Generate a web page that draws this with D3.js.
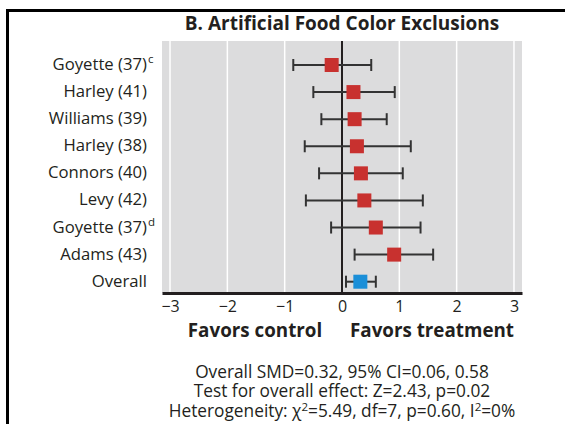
<!DOCTYPE html>
<html>
<head>
<meta charset="utf-8">
<script src="https://cdn.jsdelivr.net/npm/d3@7"></script>
<style>
  html, body { margin: 0; padding: 0; background: #fff; }
  svg { display: block; }
  text { font-family: "Open Sans", "Noto Sans", sans-serif; fill: #231f20; }
</style>
</head>
<body>
<svg id="chart" width="565" height="424"></svg>
<script>
// ---- Data ----
const studies = ["Goyette (37)", "Harley (41)", "Williams (39)", "Harley (38)", "Connors (40)", "Levy (42)", "Goyette (37)", "Adams (43)", "Overall"];
const superscripts = ["c", "", "", "", "", "", "d", "", ""];
const smd = [-0.18, 0.20, 0.22, 0.26, 0.33, 0.39, 0.59, 0.91, 0.32];
const ciLow = [-0.85, -0.50, -0.36, -0.65, -0.40, -0.63, -0.19, 0.22, 0.07];
const ciHigh = [0.51, 0.92, 0.78, 1.20, 1.06, 1.41, 1.37, 1.59, 0.59];
const isOverall = [false, false, false, false, false, false, false, false, true];
const xTicks = [-3, -2, -1, 0, 1, 2, 3];
const title = "B. Artificial Food Color Exclusions";
const leftLabel = "Favors control";
const rightLabel = "Favors treatment";
const statLines = [
  [{t: "Overall SMD=0.32, 95% CI=0.06, 0.58"}],
  [{t: "Test for overall effect: Z=2.43, p=0.02"}],
  [{t: "Heterogeneity: χ"}, {t: "2", sup: true}, {t: "=5.49, df=7, p=0.60, I"}, {t: "2", sup: true}, {t: "=0%"}]
];

// ---- Layout ----
const svg = d3.select("#chart");
const plotTop = 41, plotBottom = 293;
const x = d3.scaleLinear().domain([-3.14, 3.14]).range([162, 522]);
const idx = d3.range(studies.length);
const y = d3.scalePoint().domain(idx).range([65, 281.7]);

// frame
svg.append("line").attr("x1", 6).attr("x2", 565).attr("y1", 10.5).attr("y2", 10.5)
  .attr("stroke", "#000").attr("stroke-width", 3);
svg.append("line").attr("x1", 7.5).attr("x2", 7.5).attr("y1", 9).attr("y2", 424)
  .attr("stroke", "#000").attr("stroke-width", 3);

// title
svg.append("text").attr("x", 342).attr("y", 30).attr("text-anchor", "middle")
  .attr("font-weight", "bold").attr("font-size", 19).attr("fill", "#2b2b2b").text(title);

// plot background
svg.append("rect").attr("x", x.range()[0]).attr("y", plotTop)
  .attr("width", x.range()[1] - x.range()[0]).attr("height", plotBottom - plotTop)
  .attr("fill", "#dcdcdd");

// gridlines
svg.append("g").selectAll("line").data(xTicks.filter(d => d !== 0)).join("line")
  .attr("x1", d => x(d)).attr("x2", d => x(d)).attr("y1", plotTop).attr("y2", plotBottom)
  .attr("stroke", "#fff").attr("stroke-width", 1.5);

// zero line
svg.append("line").attr("x1", x(0)).attr("x2", x(0)).attr("y1", plotTop).attr("y2", plotBottom)
  .attr("stroke", "#231f20").attr("stroke-width", 2);

// axis
const axis = svg.append("g").attr("transform", `translate(0,${plotBottom})`)
  .call(d3.axisBottom(x).tickValues(xTicks).tickSize(0).tickPadding(7.5)
    .tickFormat(d => d < 0 ? "\u2212" + Math.abs(d) : String(d)));
axis.select(".domain").attr("stroke", "#231f20").attr("stroke-width", 3);
axis.selectAll("text").attr("font-size", 16).attr("font-family", "Open Sans, sans-serif").attr("fill", "#231f20");

// CI lines
const rows = svg.append("g").selectAll("g").data(idx).join("g");
rows.append("line")
  .attr("x1", i => x(ciLow[i])).attr("x2", i => x(ciHigh[i]))
  .attr("y1", i => y(i)).attr("y2", i => y(i))
  .attr("stroke", "#333").attr("stroke-width", 2);
rows.append("line")
  .attr("x1", i => x(ciLow[i])).attr("x2", i => x(ciLow[i]))
  .attr("y1", i => y(i) - 6).attr("y2", i => y(i) + 6)
  .attr("stroke", "#333").attr("stroke-width", 2);
rows.append("line")
  .attr("x1", i => x(ciHigh[i])).attr("x2", i => x(ciHigh[i]))
  .attr("y1", i => y(i) - 6).attr("y2", i => y(i) + 6)
  .attr("stroke", "#333").attr("stroke-width", 2);
const sq = 14;
rows.append("rect")
  .attr("x", i => x(smd[i]) - sq / 2).attr("y", i => y(i) - sq / 2)
  .attr("width", sq).attr("height", sq)
  .attr("fill", i => isOverall[i] ? "#1b8fd8" : "#c8312f");

// study labels
const labelRight = 147;
svg.append("g").selectAll("text").data(idx).join("text")
  .attr("x", labelRight).attr("y", i => y(i) + 5).attr("text-anchor", "end")
  .attr("font-size", 16.7).text(i => studies[i]);
svg.append("g").selectAll("text").data(idx.filter(i => superscripts[i])).join("text")
  .attr("x", labelRight + 1).attr("y", i => y(i) - 2).attr("text-anchor", "start")
  .attr("font-size", 11.5).text(i => superscripts[i]);

// favors labels
svg.append("text").attr("x", 255).attr("y", 337).attr("text-anchor", "middle")
  .attr("font-weight", "bold").attr("font-size", 18.8).attr("fill", "#2b2b2b").text(leftLabel);
svg.append("text").attr("x", 432).attr("y", 337).attr("text-anchor", "middle")
  .attr("font-weight", "bold").attr("font-size", 18.8).attr("fill", "#2b2b2b").text(rightLabel);

// stats
statLines.forEach((parts, k) => {
  const t = svg.append("text").attr("x", 342).attr("y", 377.5 + k * 19.7)
    .attr("text-anchor", "middle").attr("font-size", 17.3);
  let shift = 0;
  parts.forEach(p => {
    if (p.sup) {
      t.append("tspan").attr("dy", -6 - shift).attr("font-size", 11.5).text(p.t);
      shift = -6;
    } else {
      t.append("tspan").attr("dy", -shift).text(p.t);
      shift = 0;
    }
  });
});
</script>
</body>
</html>
